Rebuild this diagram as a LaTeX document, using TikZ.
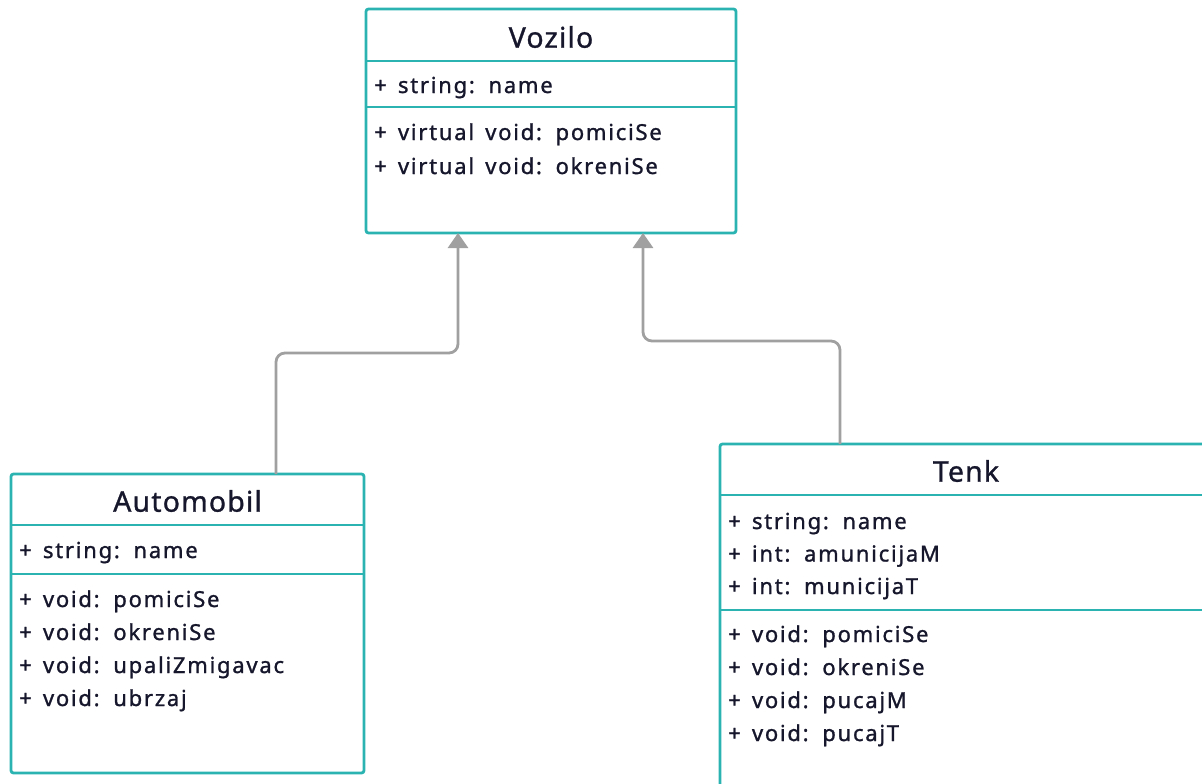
\documentclass[tikz,border=0pt]{standalone}
\usepackage{fontspec}
\setmainfont{Noto Sans}
\newfontfamily\umlfont[LetterSpace=8,WordSpace=1.5,FakeBold=1.2]{Noto Sans}
\newfontfamily\umltitlefont[LetterSpace=4,FakeBold=1]{Noto Sans}
\usetikzlibrary{positioning,arrows.meta}
\definecolor{umlteal}{HTML}{2BB3B1}
\definecolor{umlgray}{HTML}{A0A0A0}
\definecolor{umlink}{HTML}{16162C}

\tikzset{
  classbox/.style={draw=umlteal,line width=2.8pt,rounded corners=2.5pt,fill=white,inner sep=0pt,outer sep=0pt},
  divider/.style={draw=umlteal,line width=2.8pt},
  classname/.style={font=\umltitlefont\fontsize{28.5}{32}\selectfont,text=umlink,inner sep=0pt},
  member/.style={font=\umlfont\fontsize{22}{26}\selectfont,text=umlink,anchor=west,inner sep=0pt,text height=16pt,text depth=0pt},
  inherit/.style={draw=umlgray,line width=2.8pt,rounded corners=9pt,-{Triangle[width=20pt,length=15pt]}}
}

\begin{document}
\begin{tikzpicture}[x=1pt,y=-1pt]
\useasboundingbox (0,0) rectangle (1202,784);
\clip (0,0) rectangle (1202,784);

% the three classes
\node[classbox,minimum width=370pt,minimum height=224pt] (vozilo) at (551,121) {};
\node[classbox,minimum width=353pt,minimum height=299pt] (automobil) at (187.5,623.5) {};
\node[classbox,minimum width=492pt,minimum height=360pt] (tenk) at (966,624) {};

% compartments
\draw[divider] ([yshift=-52pt]vozilo.north west) -- ([yshift=-52pt]vozilo.north east);
\draw[divider] ([yshift=-98pt]vozilo.north west) -- ([yshift=-98pt]vozilo.north east);
\draw[divider] ([yshift=-51pt]automobil.north west) -- ([yshift=-51pt]automobil.north east);
\draw[divider] ([yshift=-100pt]automobil.north west) -- ([yshift=-100pt]automobil.north east);
\draw[divider] ([yshift=-51pt]tenk.north west) -- ([yshift=-51pt]tenk.north east);
\draw[divider] ([yshift=-166pt]tenk.north west) -- ([yshift=-166pt]tenk.north east);

% names
\node[classname] (vozilo-name) at ([yshift=-28pt]vozilo.north) {Vozilo};
\node[classname] (automobil-name) at ([yshift=-27pt]automobil.north) {Automobil};
\node[classname] (tenk-name) at ([yshift=-27pt]tenk.north) {Tenk};

% Vozilo members
\node[member] (vozilo-a1) at ([xshift=8pt,yshift=-76pt]vozilo.north west) {+ string: name};
\foreach \txt [count=\i] in {+ virtual void: pomiciSe,+ virtual void: okreniSe}
{
\node[member] (vozilo-m\i) at ([xshift=8pt,yshift={-(123+34*(\i-1))}]vozilo.north west) {\txt};
}

% Automobil members
\node[member] (automobil-a1) at ([xshift=8pt,yshift=-76pt]automobil.north west) {+ string: name};
\foreach \txt [count=\i] in {+ void: pomiciSe,+ void: okreniSe,+ void: upaliZmigavac,+ void: ubrzaj}
{
\node[member] (automobil-m\i) at ([xshift=8pt,yshift={-(125+33*(\i-1))}]automobil.north west) {\txt};
}

% Tenk members
\foreach \txt [count=\i] in {+ string: name,+ int: amunicijaM,+ int: municijaT}
{
\node[member] (tenk-a\i) at ([xshift=8pt,yshift={-(77+32.5*(\i-1))}]tenk.north west) {\txt};
}
\foreach \txt [count=\i] in {+ void: pomiciSe,+ void: okreniSe,+ void: pucajM,+ void: pucajT}
{
\node[member] (tenk-m\i) at ([xshift=8pt,yshift={-(190+33*(\i-1))}]tenk.north west) {\txt};
}

% inheritance
\draw[inherit] ([xshift=265pt]automobil.north west) -- ++(0,-121) -| ([xshift=92pt]vozilo.south west);
\draw[inherit] ([xshift=120pt]tenk.north west) -- ++(0,-103) -| ([xshift=277pt]vozilo.south west);
\end{tikzpicture}
\end{document}
